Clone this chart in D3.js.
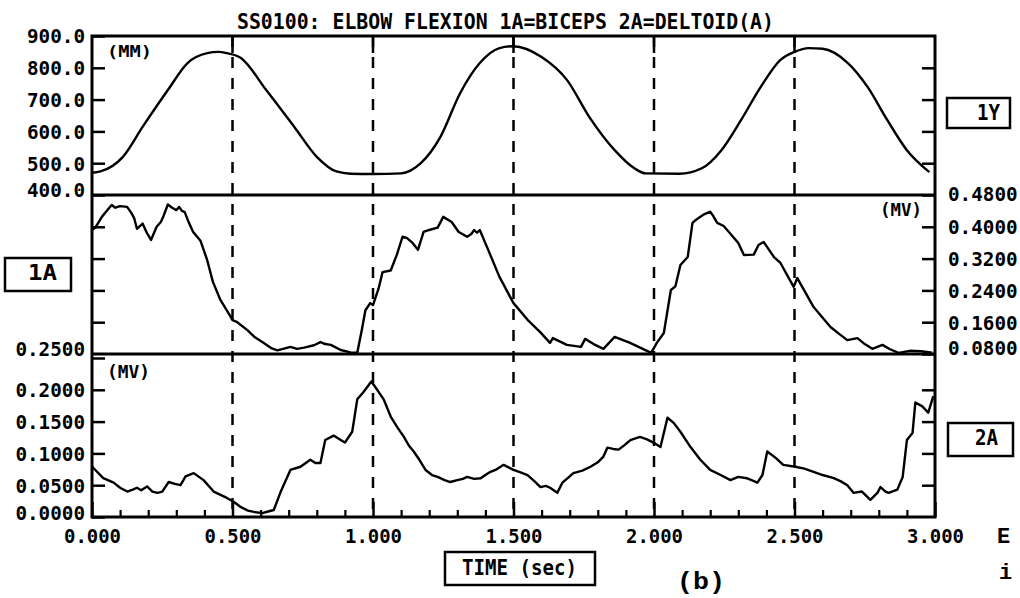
<!DOCTYPE html>
<html>
<head>
<meta charset="utf-8">
<script src="https://cdn.jsdelivr.net/npm/d3@7"></script>
<style>
  html, body { margin: 0; padding: 0; background: #fff; }
  svg { display: block; }
</style>
</head>
<body>
<svg id="chart" width="1020" height="598"></svg>
<script>
// ---------------- DATA ----------------
const titleText = "SS0100: ELBOW FLEXION 1A=BICEPS 2A=DELTOID(A)";
const xTicksMajor = [0, 0.5, 1.0, 1.5, 2.0, 2.5, 3.0];
const xTicksMinor = [0.1,0.2,0.3,0.4,0.6,0.7,0.8,0.9,1.1,1.2,1.3,1.4,1.6,1.7,1.8,1.9,2.1,2.2,2.3,2.4,2.6,2.7,2.8,2.9];
const xDashed = [0.5, 1.0, 1.5, 2.0, 2.5];

const yLabelTicks = [400, 500, 600, 700, 800, 900];
const yInnerTicks = [500, 600, 700, 800];
const bicepsLabelTicks = [0.08, 0.16, 0.24, 0.32, 0.40, 0.48];
const bicepsInnerTicks = [0.16, 0.24, 0.32, 0.40];
const deltLabelTicks = [0, 0.05, 0.10, 0.15, 0.20, 0.25];
const deltInnerTicks = [0.05, 0.10, 0.15, 0.20];

// 1Y : elbow position (MM)
const posTime = [0.00,0.03,0.11,0.18,0.27,0.34,0.41,0.45,0.48,0.53,0.62,0.72,0.80,0.87,0.92,1.00,1.10,1.17,1.24,1.31,1.38,1.45,1.50,1.60,1.69,1.77,1.86,1.93,1.97,2.09,2.17,2.24,2.31,2.38,2.45,2.50,2.55,2.60,2.69,2.76,2.83,2.90,2.98];
const posVals = [470,474,520,614,730,815,846,850,846,831,730,614,520,474,467,466,468,500,583,720,815,862,868,834,762,645,541,484,468,467,484,541,636,740,825,850,862,860,815,740,636,541,472];

// 1A : biceps EMG (MV)
const bicepsTime = [0.000,0.012,0.035,0.055,0.070,0.083,0.100,0.125,0.140,0.150,0.160,0.180,0.195,0.210,0.230,0.245,0.255,0.270,0.285,0.300,0.310,0.320,0.330,0.345,0.360,0.386,0.410,0.430,0.457,0.490,0.500,0.517,0.553,0.580,0.610,0.640,0.660,0.690,0.706,0.730,0.755,0.790,0.813,0.830,0.850,0.885,0.920,0.944,0.960,0.973,0.990,1.000,1.020,1.034,1.063,1.085,1.105,1.120,1.140,1.160,1.180,1.200,1.230,1.250,1.280,1.305,1.335,1.350,1.360,1.370,1.380,1.410,1.450,1.500,1.550,1.595,1.630,1.640,1.690,1.740,1.755,1.785,1.820,1.860,1.915,1.990,2.010,2.035,2.060,2.076,2.094,2.120,2.137,2.150,2.165,2.180,2.200,2.210,2.225,2.248,2.275,2.300,2.320,2.355,2.372,2.390,2.427,2.450,2.497,2.510,2.568,2.628,2.660,2.688,2.724,2.750,2.777,2.813,2.840,2.870,2.910,2.950,2.990];
const bicepsVals = [0.392,0.398,0.425,0.442,0.455,0.448,0.452,0.450,0.435,0.422,0.395,0.408,0.385,0.367,0.400,0.412,0.428,0.456,0.448,0.442,0.450,0.440,0.437,0.410,0.387,0.365,0.316,0.262,0.216,0.178,0.165,0.160,0.140,0.122,0.108,0.094,0.089,0.095,0.098,0.093,0.096,0.102,0.110,0.105,0.103,0.090,0.084,0.083,0.140,0.190,0.208,0.203,0.245,0.286,0.290,0.330,0.375,0.372,0.360,0.342,0.387,0.392,0.398,0.425,0.412,0.387,0.375,0.382,0.392,0.385,0.392,0.342,0.274,0.208,0.166,0.135,0.108,0.120,0.103,0.098,0.118,0.105,0.093,0.123,0.108,0.083,0.108,0.133,0.241,0.250,0.304,0.324,0.410,0.418,0.425,0.432,0.438,0.428,0.410,0.402,0.380,0.359,0.329,0.330,0.354,0.362,0.324,0.309,0.249,0.271,0.198,0.148,0.130,0.115,0.120,0.105,0.093,0.103,0.092,0.083,0.088,0.087,0.083];

// 2A : deltoid EMG (MV)
const deltTime = [0.000,0.005,0.040,0.077,0.100,0.125,0.145,0.160,0.175,0.196,0.215,0.233,0.250,0.273,0.295,0.315,0.333,0.362,0.397,0.433,0.480,0.504,0.528,0.555,0.576,0.606,0.630,0.647,0.670,0.706,0.742,0.777,0.795,0.813,0.830,0.860,0.885,0.900,0.926,0.944,0.967,0.994,1.015,1.038,1.063,1.085,1.110,1.128,1.145,1.165,1.187,1.210,1.230,1.255,1.275,1.300,1.320,1.335,1.360,1.383,1.400,1.418,1.440,1.465,1.500,1.525,1.550,1.575,1.596,1.615,1.630,1.656,1.674,1.695,1.713,1.745,1.774,1.800,1.820,1.834,1.855,1.874,1.895,1.916,1.950,1.975,1.998,2.023,2.048,2.070,2.094,2.130,2.165,2.200,2.237,2.272,2.300,2.330,2.368,2.386,2.403,2.433,2.460,2.503,2.535,2.568,2.600,2.640,2.665,2.688,2.710,2.740,2.770,2.795,2.806,2.824,2.835,2.866,2.885,2.900,2.920,2.930,2.955,2.976,2.994];
const deltVals = [0.080,0.077,0.061,0.054,0.046,0.040,0.043,0.046,0.042,0.048,0.040,0.038,0.040,0.055,0.052,0.050,0.064,0.069,0.058,0.040,0.030,0.024,0.016,0.010,0.008,0.006,0.009,0.011,0.038,0.074,0.079,0.090,0.085,0.085,0.121,0.128,0.121,0.117,0.134,0.185,0.197,0.213,0.200,0.185,0.158,0.142,0.126,0.112,0.103,0.090,0.074,0.066,0.063,0.058,0.055,0.058,0.060,0.063,0.060,0.061,0.066,0.071,0.075,0.082,0.074,0.070,0.066,0.056,0.047,0.049,0.046,0.038,0.054,0.062,0.069,0.073,0.079,0.086,0.095,0.109,0.107,0.106,0.113,0.121,0.126,0.122,0.117,0.110,0.156,0.148,0.134,0.110,0.090,0.074,0.066,0.058,0.063,0.061,0.054,0.066,0.103,0.093,0.082,0.079,0.076,0.071,0.066,0.061,0.056,0.050,0.038,0.040,0.027,0.038,0.047,0.040,0.038,0.043,0.063,0.121,0.132,0.180,0.174,0.164,0.190];

// ---------------- LAYOUT ----------------
const svg = d3.select("#chart");
const L = 92, R = 935, T = 36, B1 = 195, B2 = 354, B3 = 517;
const FONT = "'DejaVu Sans Mono', monospace";
const CH = 11.6; // px per character (plotter font is condensed)

const x = d3.scaleLinear().domain([0, 3]).range([L, R]);
const y1 = d3.scaleLinear().domain([400, 900]).range([B1, T]);
const y2 = d3.scaleLinear().domain([0.08, 0.48]).range([B2, B1]);
const y3 = d3.scaleLinear().domain([0, 0.25]).range([B3, 358]);

function styleText(sel, size, charW) {
  sel.attr("font-family", FONT).attr("font-weight", "bold")
     .attr("font-size", size).attr("fill", "#000")
     .attr("lengthAdjust", "spacingAndGlyphs")
     .attr("textLength", function() { return this.textContent.length * charW; });
}

// title
svg.append("text").attr("x", 237).attr("y", 29).text(titleText)
   .call(styleText, 21, 537 / titleText.length);

// dashed verticals
svg.append("g").selectAll("line").data(xDashed).join("line")
  .attr("x1", d => x(d)).attr("x2", d => x(d)).attr("y1", T).attr("y2", B3)
  .attr("stroke", "#000").attr("stroke-width", 2.5).attr("stroke-dasharray", "11,10");
// top major ticks
svg.append("g").selectAll("line").data(xDashed).join("line")
  .attr("x1", d => x(d)).attr("x2", d => x(d)).attr("y1", T).attr("y2", T + 17)
  .attr("stroke", "#000").attr("stroke-width", 2.5);

// frame
svg.append("rect").attr("x", L).attr("y", T).attr("width", R - L).attr("height", B3 - T)
  .attr("fill", "none").attr("stroke", "#000").attr("stroke-width", 3);
[B1, B2].forEach(yy => svg.append("line").attr("x1", L).attr("x2", R).attr("y1", yy).attr("y2", yy)
  .attr("stroke", "#000").attr("stroke-width", 3));

// axes helper
function axis(gen, tx, labelled, shift) {
  const g = svg.append("g").attr("transform", `translate(${tx},0)`).call(gen);
  g.select(".domain").remove();
  g.selectAll(".tick line").attr("stroke", "#000").attr("stroke-width", 2.5);
  if (labelled) {
    g.selectAll(".tick text").attr("dy", null)
      .attr("y", d => 7 + (shift[d] || 0))
      .call(styleText, 20, CH);
  } else {
    g.selectAll(".tick text").remove();
  }
  return g;
}
const f1 = d3.format(".1f"), f4 = d3.format(".4f");
axis(d3.axisLeft(y1).tickValues(yLabelTicks).tickFormat(f1).tickSizeInner(-13).tickSizeOuter(0).tickPadding(7), L, true, {900: -1, 400: -5.5});
axis(d3.axisRight(y1).tickValues(yInnerTicks).tickSizeInner(-13).tickSizeOuter(0), R, false);
axis(d3.axisLeft(y2).tickValues(bicepsInnerTicks).tickSizeInner(-13).tickSizeOuter(0), L, false);
axis(d3.axisRight(y2).tickValues(bicepsLabelTicks).tickFormat(f4).tickSizeInner(-13).tickSizeOuter(0).tickPadding(13), R, true, {0.48: -2, 0.08: -7});
axis(d3.axisLeft(y3).tickValues(deltLabelTicks).tickFormat(f4).tickSizeInner(-13).tickSizeOuter(0).tickPadding(7), L, true, {0.25: -10, 0: -4.5});
axis(d3.axisRight(y3).tickValues(deltInnerTicks).tickSizeInner(-13).tickSizeOuter(0), R, false);

// x axis
const gx = svg.append("g").attr("transform", `translate(0,${B3})`)
  .call(d3.axisBottom(x).tickValues(xTicksMajor).tickFormat(d3.format(".3f")).tickSizeInner(-15).tickSizeOuter(0));
gx.select(".domain").remove();
gx.selectAll(".tick line").attr("stroke", "#000").attr("stroke-width", 2.5);
gx.selectAll(".tick text").attr("dy", null).attr("y", 26).call(styleText, 20, 11.4);
const gxm = svg.append("g").attr("transform", `translate(0,${B3})`)
  .call(d3.axisBottom(x).tickValues(xTicksMinor).tickFormat("").tickSizeInner(-7).tickSizeOuter(0));
gxm.select(".domain").remove();
gxm.selectAll(".tick line").attr("stroke", "#000").attr("stroke-width", 2.2);

// traces
const lineP = d3.line().x(d => x(d[0])).y(d => y1(d[1])).curve(d3.curveMonotoneX);
const lineB = d3.line().x(d => x(d[0])).y(d => y2(d[1]));
const lineD = d3.line().x(d => x(d[0])).y(d => y3(d[1]));
svg.append("path").attr("d", lineP(d3.zip(posTime, posVals)))
  .attr("fill", "none").attr("stroke", "#000").attr("stroke-width", 2.4);
svg.append("path").attr("d", lineB(d3.zip(bicepsTime, bicepsVals)))
  .attr("fill", "none").attr("stroke", "#000").attr("stroke-width", 2.4).attr("stroke-linejoin", "round");
svg.append("path").attr("d", lineD(d3.zip(deltTime, deltVals)))
  .attr("fill", "none").attr("stroke", "#000").attr("stroke-width", 2.4).attr("stroke-linejoin", "round");

// unit labels
function txt(s, xx, yy, size, w) {
  return svg.append("text").attr("x", xx).attr("y", yy).text(s).call(styleText, size, w / s.length);
}
txt("(MM)", 107, 57, 16, 45);
txt("(MV)", 880, 216, 17, 42);
txt("(MV)", 107, 378, 17, 43);

// boxed labels
function box(s, bx, by, bw, bh, tx, ty, tw) {
  svg.append("rect").attr("x", bx).attr("y", by).attr("width", bw).attr("height", bh)
    .attr("fill", "none").attr("stroke", "#000").attr("stroke-width", 2.5);
  txt(s, tx, ty, 22, tw);
}
box("1Y", 947, 98, 63, 30, 977, 120, 23);
box("1A", 5, 258, 66, 33, 28, 280, 29);
box("2A", 948, 423, 65, 33, 975, 445, 23);
box("TIME (sec)", 445, 552, 150, 33, 462, 575, 115);

// caption marks
svg.append("text").attr("x", 677).attr("y", 589).text("(b)")
  .attr("font-family", "'Liberation Mono', monospace").attr("font-weight", "bold")
  .attr("font-size", 24).attr("textLength", 48).attr("lengthAdjust", "spacingAndGlyphs");
svg.append("text").attr("x", 997).attr("y", 543).text("E")
  .attr("font-family", "'Liberation Mono', monospace").attr("font-weight", "bold").attr("font-size", 22);
svg.append("text").attr("x", 999).attr("y", 579).text("i")
  .attr("font-family", "'Liberation Mono', monospace").attr("font-weight", "bold").attr("font-size", 22);
</script>
</body>
</html>
